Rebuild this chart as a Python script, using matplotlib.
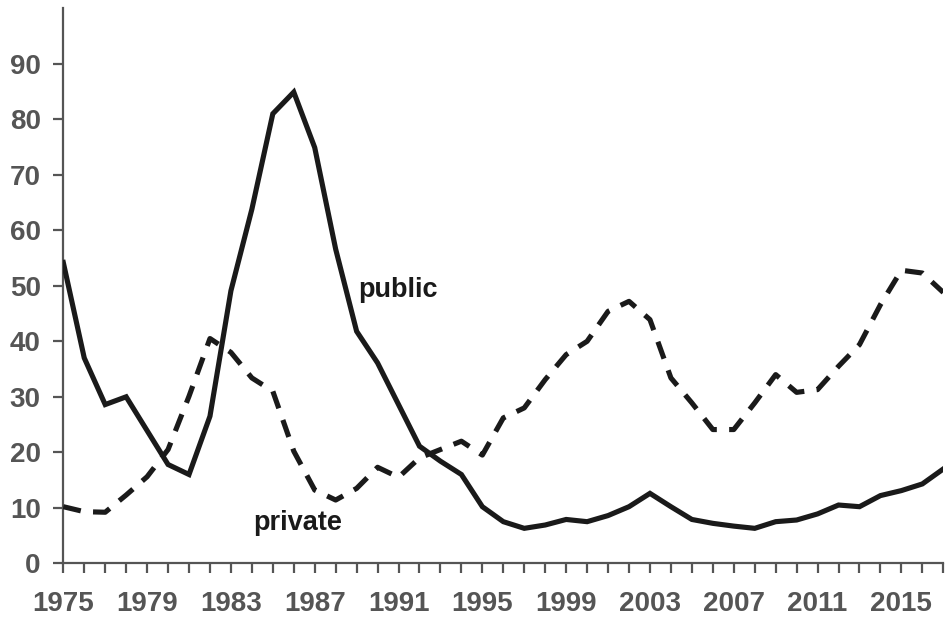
import matplotlib
matplotlib.use("Agg")
import matplotlib.pyplot as plt
import numpy as np

years = list(range(1975, 2018))
public = [54.2, 37.0, 28.6, 30.0, 23.9, 17.8, 16.0, 26.5, 49.1, 63.8, 81.0, 84.9,
          74.9, 56.6, 41.8, 36.1, 28.6, 21.1, 18.4, 16.0, 10.2, 7.5, 6.3, 6.9,
          7.9, 7.5, 8.6, 10.2, 12.6, 10.2, 7.9, 7.2, 6.7, 6.3, 7.5, 7.8,
          8.9, 10.5, 10.2, 12.2, 13.1, 14.3, 17.0]
private = [10.2, 9.3, 9.2, 12.3, 15.6, 20.5, 30.1, 40.5, 38.0, 33.4, 31.0, 20.2,
           13.2, 11.4, 13.5, 17.3, 15.5, 19.0, 20.5, 22.0, 19.5, 26.2, 28.0, 33.1,
           37.6, 40.0, 45.4, 47.2, 43.9, 33.4, 28.9, 24.1, 24.1, 28.9, 34.0, 30.8,
           31.3, 35.5, 39.4, 46.6, 52.8, 52.3, 48.8]
ytick_values = list(range(0, 100, 10))
xtick_labels = list(range(1975, 2017, 4))

W, H = 947, 618
fig = plt.figure(figsize=(W / 100, H / 100), dpi=100)
ax = fig.add_axes([63.3 / W, 1 - 563.3 / H, (943.3 - 63.3) / W, (563.3 - 8.3) / H])

gray = "#555555"
font = "Liberation Sans"

ax.plot(years, public, color="#1a1a1a", lw=3.7, solid_joinstyle="miter", zorder=3)
ax.plot(years, private, color="#1a1a1a", lw=3.7, linestyle=(0, (3.5, 2.4)), zorder=4)

ax.set_xlim(1975, 2017)
ax.set_ylim(0, 100)
ax.set_yticks(ytick_values)
ax.set_xticks(years, minor=False)
ax.set_xticklabels([str(y) if y in xtick_labels else "" for y in years])

for s in ["top", "right"]:
    ax.spines[s].set_visible(False)
for s in ["left", "bottom"]:
    ax.spines[s].set_color(gray)
    ax.spines[s].set_linewidth(1.6)

ax.tick_params(axis="both", direction="out", length=7.2, width=1.6, color=gray,
               labelcolor=gray)
ax.tick_params(axis="y", pad=9)
ax.tick_params(axis="x", pad=13)
for lab in ax.get_xticklabels() + ax.get_yticklabels():
    lab.set_fontfamily(font)
    lab.set_fontweight("bold")
    lab.set_fontsize(20)

ax.text(1989.07, 47.9, "public", fontfamily=font, fontweight="bold", fontsize=19.5,
        color="#1a1a1a", ha="left", va="baseline")
ax.text(1984.05, 6.0, "private", fontfamily=font, fontweight="bold", fontsize=19.5,
        color="#1a1a1a", ha="left", va="baseline")

ax.set_facecolor("white")
fig.patch.set_facecolor("white")
fig.savefig("out.png", dpi=100, facecolor="white")
